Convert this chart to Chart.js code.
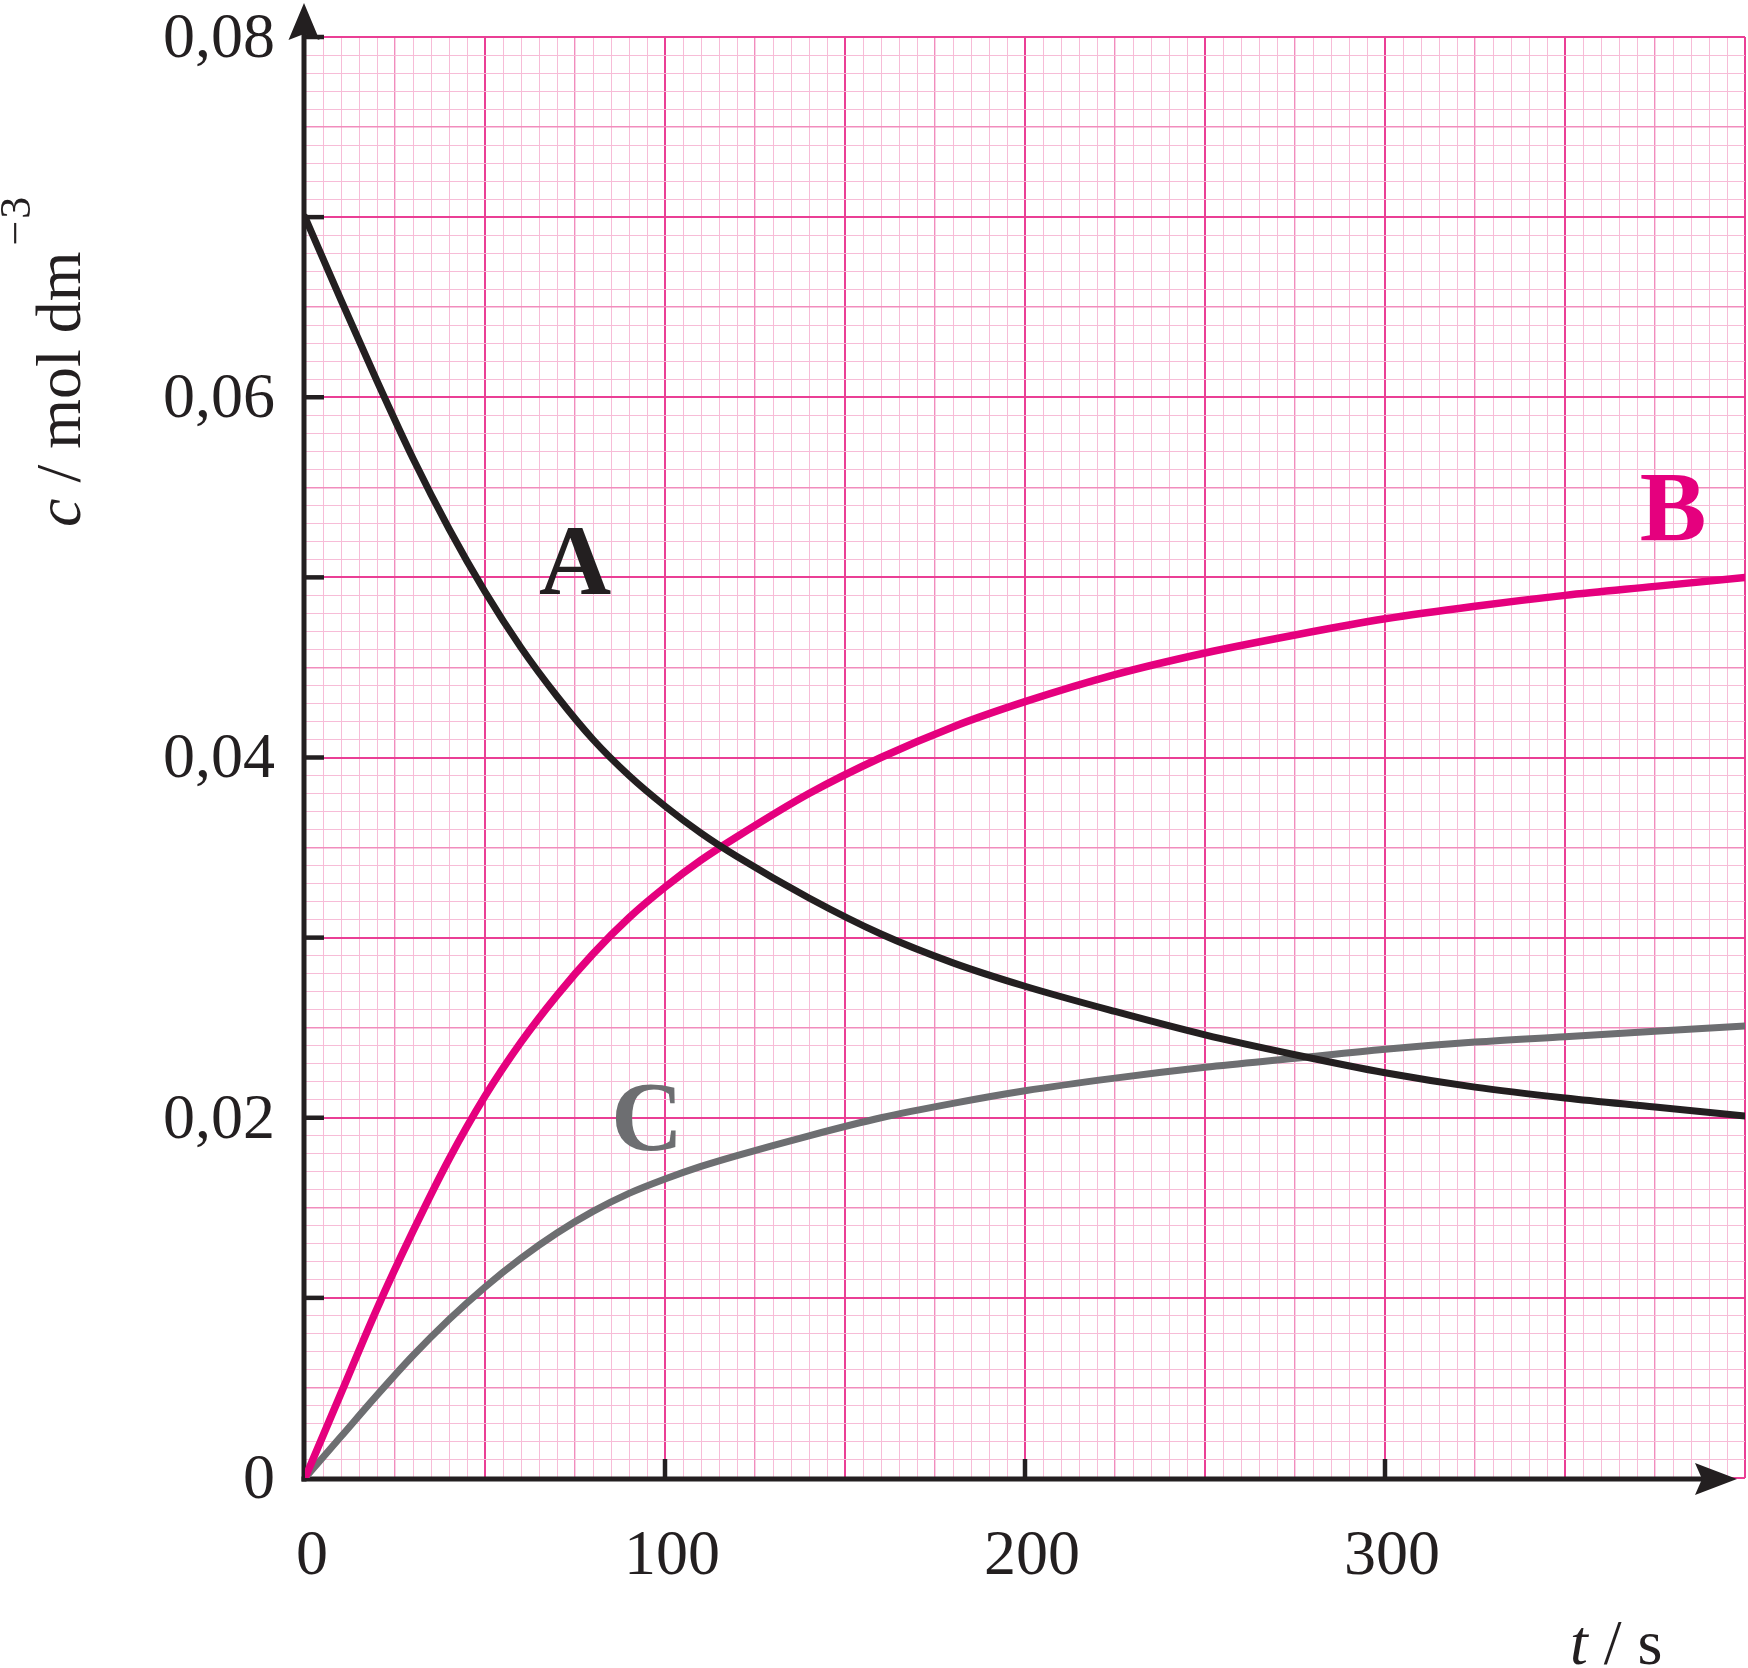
<!DOCTYPE html>
<html>
<head>
<meta charset="utf-8">
<script src="https://cdn.jsdelivr.net/npm/chart.js@4.4.1/dist/chart.umd.min.js"></script>
<style>
html,body{margin:0;padding:0;background:#ffffff;}
#wrap{width:1748px;height:1668px;position:relative;overflow:hidden;}
canvas{display:block;}
</style>
</head>
<body>
<div id="wrap"><canvas id="chart" width="1748" height="1668"></canvas></div>
<script>
// ---- data ----
const times   = [0, 10, 20, 30, 40, 50, 60, 70, 80, 90, 100, 110, 120, 140, 160, 180, 200, 225, 250, 275, 300, 325, 350, 375, 400];
const seriesA = [0.0700, 0.0654, 0.0609, 0.0566, 0.0527, 0.0492, 0.0461, 0.0434, 0.0410, 0.0390, 0.0373, 0.0358, 0.0345, 0.0322, 0.0302, 0.0286, 0.0273, 0.0259, 0.0246, 0.0235, 0.0225, 0.0217, 0.0211, 0.0206, 0.0201];
const seriesB = [0, 0.0047, 0.0094, 0.0137, 0.0177, 0.0212, 0.0242, 0.0268, 0.0291, 0.0311, 0.0328, 0.0343, 0.0356, 0.0380, 0.0400, 0.0417, 0.0431, 0.0446, 0.0458, 0.0468, 0.0477, 0.0484, 0.0490, 0.0495, 0.0500];
const seriesC = [0, 0.0023, 0.0046, 0.0068, 0.0088, 0.0106, 0.0122, 0.0136, 0.0148, 0.0158, 0.0166, 0.0173, 0.0179, 0.0190, 0.0200, 0.0208, 0.0215, 0.0222, 0.0228, 0.0233, 0.0238, 0.0242, 0.0245, 0.0248, 0.0251];
const seriesNames = ['A', 'B', 'C'];
const seriesLabelPos = [[75, 0.0491], [380, 0.0521], [95, 0.0182]]; // [t, c] anchors of the curve names

const yTickValues = [0, 0.02, 0.04, 0.06, 0.08];
const yTickLabels = ['0', '0,02', '0,04', '0,06', '0,08'];
const xTickValues = [0, 100, 200, 300];
const xTickLabels = ['0', '100', '200', '300'];
const yMarkValues = [0.01, 0.02, 0.03, 0.04, 0.05, 0.06, 0.07, 0.08];
const xMarkValues = [100, 200, 300];

// ---- styles ----
const FONT = "'Liberation Serif', 'Times New Roman', serif";
const INK = '#231f20';
const COL_A = '#231f20', COL_B = '#e5007e', COL_C = '#6d6e71';

function gridStyle(i) {
  if (i % 10 === 0) return ['#ea3f95', 2];
  if (i % 5 === 0) return ['#f18dbd', 1.4];
  return ['#f7bcd7', 1];
}
function pick(vals, labels, v) {
  const k = vals.findIndex(t => Math.abs(t - v) < 1e-9);
  return k >= 0 ? labels[k] : '';
}
function toXY(arr) { return times.map((t, i) => ({x: t, y: arr[i]})); }

const axesPlugin = {
  id: 'axesPlugin',
  beforeDatasetsDraw(chart) {
    const {ctx, scales: {x, y}} = chart;
    const x0 = x.getPixelForValue(0) - 1, y0 = y.getPixelForValue(0) + 1;
    ctx.save();
    ctx.strokeStyle = INK; ctx.fillStyle = INK;
    ctx.lineCap = 'butt';
    ctx.lineWidth = 4.5;
    yMarkValues.forEach(v => {
      const py = y.getPixelForValue(v);
      ctx.beginPath(); ctx.moveTo(x0, py); ctx.lineTo(x0 + 20, py); ctx.stroke();
    });
    xMarkValues.forEach(v => {
      const px = x.getPixelForValue(v);
      ctx.beginPath(); ctx.moveTo(px, y0); ctx.lineTo(px, y0 - 20); ctx.stroke();
    });
    ctx.lineWidth = 5;
    const yTop = chart.chartArea.top - 34;
    const xEnd = chart.chartArea.right - 8;
    ctx.beginPath(); ctx.moveTo(x0, y0 + 2.5); ctx.lineTo(x0, yTop + 30); ctx.stroke();
    ctx.beginPath(); ctx.moveTo(x0 - 2.5, y0); ctx.lineTo(xEnd - 34, y0); ctx.stroke();
    // arrow heads
    ctx.beginPath();
    ctx.moveTo(x0, yTop); ctx.lineTo(x0 + 15.5, yTop + 37); ctx.lineTo(x0, yTop + 31); ctx.lineTo(x0 - 15.5, yTop + 37); ctx.closePath(); ctx.fill();
    ctx.beginPath();
    ctx.moveTo(xEnd, y0); ctx.lineTo(xEnd - 42, y0 - 16); ctx.lineTo(xEnd - 35, y0); ctx.lineTo(xEnd - 42, y0 + 16); ctx.closePath(); ctx.fill();
    ctx.restore();
  },
  afterDatasetsDraw(chart) {
    const {ctx, scales: {x, y}} = chart;
    const cols = [COL_A, COL_B, COL_C];
    ctx.save();
    ctx.font = "bold 100px " + FONT;
    ctx.textAlign = 'center'; ctx.textBaseline = 'alphabetic';
    seriesNames.forEach((n, i) => {
      ctx.fillStyle = cols[i];
      ctx.fillText(n, x.getPixelForValue(seriesLabelPos[i][0]), y.getPixelForValue(seriesLabelPos[i][1]));
    });
    ctx.restore();
  },
  afterDraw(chart) {
    const {ctx, chartArea} = chart;
    ctx.save();
    ctx.fillStyle = INK;
    ctx.textBaseline = 'alphabetic'; ctx.textAlign = 'left';
    // x title: t / s
    let tx = chartArea.right - 175, ty = chart.height - 4;
    ctx.font = "italic 64px " + FONT;
    ctx.fillText('t', tx, ty);
    tx += ctx.measureText('t').width;
    ctx.font = "64px " + FONT;
    ctx.fillText(' / s', tx, ty);
    // y title: c / mol dm^-3 (rotated)
    ctx.translate(80, 527);
    ctx.rotate(-Math.PI / 2);
    let px = 0;
    ctx.font = "italic 64px " + FONT;
    ctx.fillText('c', px, 0); px += ctx.measureText('c').width;
    ctx.font = "64px " + FONT;
    ctx.fillText(' / mol dm', px, 0); px += ctx.measureText(' / mol dm').width;
    ctx.font = "44px " + FONT;
    px += 6;
    ctx.fillText('\u2212', px, -50); px += ctx.measureText('\u2212').width;
    ctx.fillText('3', px + 2, -50);
    ctx.restore();
  }
};

new Chart(document.getElementById('chart'), {
  type: 'line',
  data: {
    datasets: [
      {label: 'A', data: toXY(seriesA), borderColor: COL_A, borderWidth: 7},
      {label: 'B', data: toXY(seriesB), borderColor: COL_B, borderWidth: 7.5},
      {label: 'C', data: toXY(seriesC), borderColor: COL_C, borderWidth: 7}
    ].map(d => Object.assign(d, {pointRadius: 0, fill: false, cubicInterpolationMode: 'monotone', borderCapStyle: 'round'}))
  },
  options: {
    responsive: false,
    animation: false,
    devicePixelRatio: 1,
    layout: {padding: {top: 37, right: 3, left: 0, bottom: 0}},
    plugins: {legend: {display: false}, tooltip: {enabled: false}},
    scales: {
      x: {
        type: 'linear', min: 0, max: 400,
        afterFit(s) { s.height = 190; s.paddingLeft = 0; s.paddingRight = 0; },
        border: {display: false},
        grid: {drawTicks: false, color: c => gridStyle(c.index)[0], lineWidth: c => gridStyle(c.index)[1]},
        ticks: {
          stepSize: 5, autoSkip: false, maxRotation: 0, minRotation: 0, padding: 47, labelOffset: 7,
          color: INK, font: {family: FONT, size: 64, lineHeight: 1},
          callback: v => pick(xTickValues, xTickLabels, v)
        }
      },
      y: {
        type: 'linear', min: 0, max: 0.08,
        afterFit(s) { s.width = 305; s.paddingTop = 0; s.paddingBottom = 0; },
        border: {display: false},
        grid: {drawTicks: false, color: c => gridStyle(c.index)[0], lineWidth: c => gridStyle(c.index)[1]},
        ticks: {
          stepSize: 0.001, autoSkip: false, padding: 30, labelOffset: 3,
          color: INK, font: {family: FONT, size: 64, lineHeight: 1},
          callback: v => pick(yTickValues, yTickLabels, v)
        }
      }
    }
  },
  plugins: [axesPlugin]
});
</script>
</body>
</html>
